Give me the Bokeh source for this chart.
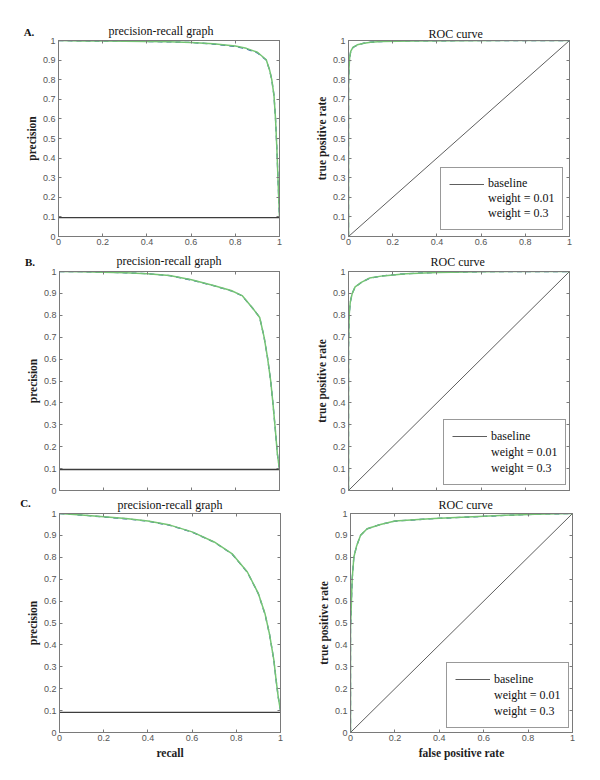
from bokeh.plotting import figure
from bokeh.layouts import column, row
from bokeh.models import Range1d, FixedTicker, LinearAxis, Label, Legend, LegendItem
from bokeh.embed import file_html
from bokeh.resources import INLINE

# ---------------- data ----------------
x_ticks = [0, 0.2, 0.4, 0.6, 0.8, 1]
x_tick_labels = ["0", "0.2", "0.4", "0.6", "0.8", "1"]
y_ticks = [0, 0.1, 0.2, 0.3, 0.4, 0.5, 0.6, 0.7, 0.8, 0.9, 1]
y_tick_labels = ["0", "0.1", "0.2", "0.3", "0.4", "0.5", "0.6", "0.7", "0.8", "0.9", "1"]

legend_labels = ["baseline", "weight = 0.01", "weight = 0.3"]
panel_letters = ["A.", "B.", "C."]

# Panel A - precision/recall
a_pr_recall_w001 = [0, 0.1, 0.2, 0.3, 0.4, 0.5, 0.6, 0.7, 0.8, 0.85, 0.9, 0.94, 0.955, 0.965, 0.975, 0.982, 0.988, 0.993, 0.997, 1.0]
a_pr_prec_w001 = [1.0, 0.998, 0.997, 0.996, 0.995, 0.993, 0.99, 0.982, 0.97, 0.957, 0.937, 0.9, 0.85, 0.8, 0.72, 0.6, 0.45, 0.3, 0.18, 0.1]
a_pr_recall_w03 = [0, 0.1, 0.2, 0.3, 0.4, 0.5, 0.6, 0.7, 0.8, 0.85, 0.9, 0.94, 0.955, 0.965, 0.975, 0.982, 0.988, 0.993, 0.997, 1.0]
a_pr_prec_w03 = [1.0, 0.998, 0.997, 0.996, 0.995, 0.993, 0.99, 0.983, 0.972, 0.96, 0.94, 0.902, 0.85, 0.8, 0.72, 0.6, 0.45, 0.3, 0.18, 0.1]
a_pr_baseline = 0.096

# Panel A - ROC
a_roc_fpr_w001 = [0, 0, 0.002, 0.005, 0.01, 0.02, 0.04, 0.07, 0.1, 0.15, 0.3, 0.5, 0.72, 1.0]
a_roc_tpr_w001 = [0, 0.77, 0.85, 0.91, 0.944, 0.964, 0.977, 0.986, 0.991, 0.995, 0.998, 0.999, 1.0, 1.0]
a_roc_fpr_w03 = [0, 0, 0.002, 0.005, 0.01, 0.02, 0.04, 0.07, 0.1, 0.15, 0.3, 0.5, 0.72, 1.0]
a_roc_tpr_w03 = [0, 0.77, 0.85, 0.91, 0.945, 0.965, 0.978, 0.986, 0.991, 0.995, 0.998, 0.999, 1.0, 1.0]

# Panel B - precision/recall
b_pr_recall_w001 = [0, 0.1, 0.2, 0.3, 0.4, 0.5, 0.6, 0.7, 0.78, 0.83, 0.88, 0.91, 0.93, 0.945, 0.96, 0.97, 0.98, 0.99, 1.0]
b_pr_prec_w001 = [1.0, 0.999, 0.997, 0.994, 0.99, 0.981, 0.961, 0.935, 0.912, 0.889, 0.83, 0.79, 0.7, 0.61, 0.5, 0.4, 0.29, 0.17, 0.095]
b_pr_recall_w03 = [0, 0.1, 0.2, 0.3, 0.4, 0.5, 0.6, 0.7, 0.78, 0.83, 0.88, 0.91, 0.93, 0.945, 0.96, 0.97, 0.98, 0.99, 1.0]
b_pr_prec_w03 = [1.0, 0.999, 0.997, 0.994, 0.99, 0.982, 0.962, 0.936, 0.913, 0.89, 0.83, 0.79, 0.7, 0.61, 0.5, 0.4, 0.29, 0.17, 0.095]
b_pr_baseline = 0.096

# Panel B - ROC
b_roc_fpr_w001 = [0, 0, 0.003, 0.008, 0.017, 0.03, 0.058, 0.095, 0.155, 0.26, 0.4, 0.6, 0.8, 1.0]
b_roc_tpr_w001 = [0, 0.65, 0.8, 0.86, 0.9, 0.929, 0.95, 0.969, 0.98, 0.99, 0.996, 0.999, 1.0, 1.0]
b_roc_fpr_w03 = [0, 0, 0.003, 0.008, 0.017, 0.03, 0.058, 0.095, 0.155, 0.26, 0.4, 0.6, 0.8, 1.0]
b_roc_tpr_w03 = [0, 0.65, 0.8, 0.86, 0.9, 0.93, 0.95, 0.97, 0.98, 0.99, 0.996, 0.999, 1.0, 1.0]

# Panel C - precision/recall
c_pr_recall_w001 = [0, 0.1, 0.2, 0.3, 0.4, 0.5, 0.6, 0.7, 0.78, 0.85, 0.9, 0.93, 0.95, 0.97, 0.98, 0.99, 1.0]
c_pr_prec_w001 = [1.0, 0.993, 0.984, 0.976, 0.965, 0.946, 0.915, 0.869, 0.816, 0.732, 0.633, 0.54, 0.45, 0.33, 0.24, 0.16, 0.1]
c_pr_recall_w03 = [0, 0.1, 0.2, 0.3, 0.4, 0.5, 0.6, 0.7, 0.78, 0.85, 0.9, 0.93, 0.95, 0.97, 0.98, 0.99, 1.0]
c_pr_prec_w03 = [1.0, 0.993, 0.985, 0.977, 0.966, 0.947, 0.916, 0.87, 0.817, 0.733, 0.634, 0.542, 0.45, 0.33, 0.24, 0.16, 0.1]
c_pr_baseline = 0.092

# Panel C - ROC
c_roc_fpr_w001 = [0, 0, 0.0075, 0.015, 0.027, 0.045, 0.075, 0.135, 0.2, 0.376, 0.6, 0.83, 1.0]
c_roc_tpr_w001 = [0, 0.47, 0.7, 0.8, 0.85, 0.9, 0.93, 0.95, 0.965, 0.977, 0.987, 0.997, 1.0]
c_roc_fpr_w03 = [0, 0, 0.0075, 0.015, 0.027, 0.045, 0.075, 0.135, 0.2, 0.376, 0.6, 0.83, 1.0]
c_roc_tpr_w03 = [0, 0.47, 0.7, 0.8, 0.85, 0.9, 0.93, 0.95, 0.966, 0.977, 0.988, 0.997, 1.0]

# ---------------- style ----------------
SERIF = "Liberation Serif"
SANS = "Liberation Sans"
FRAME_COL = "#7a7a7a"
TICK_COL = "#555555"
GREEN = "#74c474"
BLUE = "#2a5aa8"
BASE_PR = "#3d3d3d"
BASE_ROC = "#5e5e5e"
LEG_W001 = "#7fd2e2"
LEG_W03 = "#7ea69f"


def make_fig(w, h, bl, br, bt, bb, show_xlabels, xlabel, ylabel,
             title, title_offset, title_standoff, title_valign):
    p = figure(width=w, height=h, x_range=Range1d(0, 1), y_range=Range1d(0, 1),
               output_backend="svg", toolbar_location=None,
               min_border_left=bl, min_border_right=br,
               min_border_top=bt, min_border_bottom=bb)
    p.xgrid.visible = False
    p.ygrid.visible = False
    p.outline_line_color = FRAME_COL
    p.outline_line_width = 1
    p.background_fill_color = "white"
    p.border_fill_color = "white"

    p.title.text = title
    p.title.align = "left"
    p.title.offset = title_offset
    p.title.standoff = title_standoff
    p.title.vertical_align = title_valign
    p.title.text_font = SERIF
    p.title.text_font_size = "12px"
    p.title.text_font_style = "normal"
    p.title.text_color = "#111111"

    def style(ax, ticks, labels, standoff):
        ax.ticker = FixedTicker(ticks=ticks)
        ax.major_label_overrides = dict(zip(ticks, labels))
        ax.major_tick_in = 3
        ax.major_tick_out = 0
        ax.minor_tick_line_color = None
        ax.major_tick_line_color = FRAME_COL
        ax.axis_line_color = FRAME_COL
        ax.major_label_text_font = SANS
        ax.major_label_text_font_size = "9px"
        ax.major_label_text_color = TICK_COL
        ax.major_label_standoff = standoff
        ax.axis_label_text_font = SERIF
        ax.axis_label_text_font_style = "bold"
        ax.axis_label_text_font_size = "11.5px"
        ax.axis_label_text_color = "#1e1e1e"

    style(p.xaxis[0], x_ticks, x_tick_labels, 2)
    style(p.yaxis[0], y_ticks, y_tick_labels, 3)
    p.yaxis[0].axis_label = ylabel
    p.yaxis[0].axis_label_standoff = 2
    if xlabel:
        p.xaxis[0].axis_label = xlabel
        p.xaxis[0].axis_label_standoff = 3
    if not show_xlabels:
        p.xaxis[0].major_label_text_font_size = "1px"
        p.xaxis[0].major_label_text_color = None
        p.xaxis[0].major_label_standoff = 0

    top = LinearAxis()
    right = LinearAxis()
    for ax, ticks in ((top, x_ticks), (right, y_ticks)):
        ax.ticker = FixedTicker(ticks=ticks)
        ax.major_tick_in = 3
        ax.major_tick_out = 0
        ax.minor_tick_line_color = None
        ax.major_tick_line_color = FRAME_COL
        ax.axis_line_color = FRAME_COL
        ax.major_label_text_font_size = "1px"
        ax.major_label_text_color = None
        ax.major_label_standoff = 0
    p.add_layout(top, "above")
    p.add_layout(right, "right")
    return p


def add_letter(p, x, y, text):
    p.add_layout(Label(x=x, y=y, x_units="screen", y_units="screen", text=text,
                       text_font=SERIF, text_font_size="11px",
                       text_font_style="bold", text_color="#111111",
                       text_align="center", text_baseline="alphabetic"), "left")


def pr_panel(w, h, bl, br, bt, bb, show_xlabels, xlabel,
             rec1, pre1, rec3, pre3, base, t_off, t_stand, t_valign,
             letter, letter_xy):
    p = make_fig(w, h, bl, br, bt, bb, show_xlabels, xlabel, "precision",
                 "precision-recall graph", t_off, t_stand, t_valign)
    p.line([0, 1], [base, base], line_color=BASE_PR, line_width=1.3)
    p.line(rec1, pre1, line_color=BLUE, line_width=1.3, line_dash="5 4")
    p.line(rec3, pre3, line_color=GREEN, line_width=1.5)
    add_letter(p, letter_xy[0], letter_xy[1], letter)
    return p


def roc_panel(w, h, bl, br, bt, bb, show_xlabels, xlabel,
              fpr1, tpr1, fpr3, tpr3, t_off, t_stand, t_valign,
              leg_loc, leg_row):
    p = make_fig(w, h, bl, br, bt, bb, show_xlabels, xlabel, "true positive rate",
                 "ROC curve", t_off, t_stand, t_valign)
    r_base = p.line([0, 1], [0, 1], line_color=BASE_ROC, line_width=1)
    p.line(fpr1, tpr1, line_color=BLUE, line_width=1.3, line_dash="5 4")
    p.line(fpr3, tpr3, line_color=GREEN, line_width=1.5)
    r_l1 = p.line([], [], line_color=LEG_W001, line_width=1.6)
    r_l3 = p.line([], [], line_color=LEG_W03, line_width=1.6)
    items = [LegendItem(label=legend_labels[0], renderers=[r_base]),
             LegendItem(label=legend_labels[1], renderers=[r_l1]),
             LegendItem(label=legend_labels[2], renderers=[r_l3])]
    leg = Legend(items=items, location=leg_loc, margin=0, padding=8,
                 spacing=0, glyph_width=35, glyph_height=leg_row,
                 label_height=leg_row, label_standoff=4,
                 label_text_font=SERIF, label_text_font_size="12px",
                 label_text_color="#111111",
                 border_line_color="#333333", border_line_width=1,
                 background_fill_color="white", background_fill_alpha=1)
    p.add_layout(leg)
    return p


# Row A (page y 0..250)
pA1 = pr_panel(300, 250, 58, 21, 40, 14, True, None,
               a_pr_recall_w001, a_pr_prec_w001, a_pr_recall_w03, a_pr_prec_w03,
               a_pr_baseline, 50, 6, "bottom", panel_letters[0], (17.5, 204.5))
pA2 = roc_panel(300, 250, 48, 31, 40, 14, True, None,
                a_roc_fpr_w001, a_roc_tpr_w001, a_roc_fpr_w03, a_roc_tpr_w03,
                80, 0, "bottom", (92, 6), 14)

# Row B (page y 250..496)
pB1 = pr_panel(300, 246, 59, 21, 21, 6, False, None,
               b_pr_recall_w001, b_pr_prec_w001, b_pr_recall_w03, b_pr_prec_w03,
               b_pr_baseline, 57, 4, "top", panel_letters[1], (16.5, 228.5))
pB2 = roc_panel(300, 246, 48, 31, 21, 6, False, None,
                b_roc_fpr_w001, b_roc_tpr_w001, b_roc_fpr_w03, b_roc_tpr_w03,
                82, 2, "top", (95, 5), 16)

# Row C (page y 496..780)
pC1 = pr_panel(300, 284, 59, 20, 17, 48, True, "recall",
               c_pr_recall_w001, c_pr_prec_w001, c_pr_recall_w03, c_pr_prec_w03,
               c_pr_baseline, 58, 0, "top", panel_letters[2], (13, 229.5))
pC2 = roc_panel(300, 284, 50, 28, 17, 48, True, "false positive rate",
                c_roc_fpr_w001, c_roc_tpr_w001, c_roc_fpr_w03, c_roc_tpr_w03,
                88, 0, "top", (96, 4), 16)

layout = column(row(pA1, pA2, spacing=0), row(pB1, pB2, spacing=0),
                row(pC1, pC2, spacing=0), spacing=0)

open("out.html", "w").write(file_html(layout, INLINE))
